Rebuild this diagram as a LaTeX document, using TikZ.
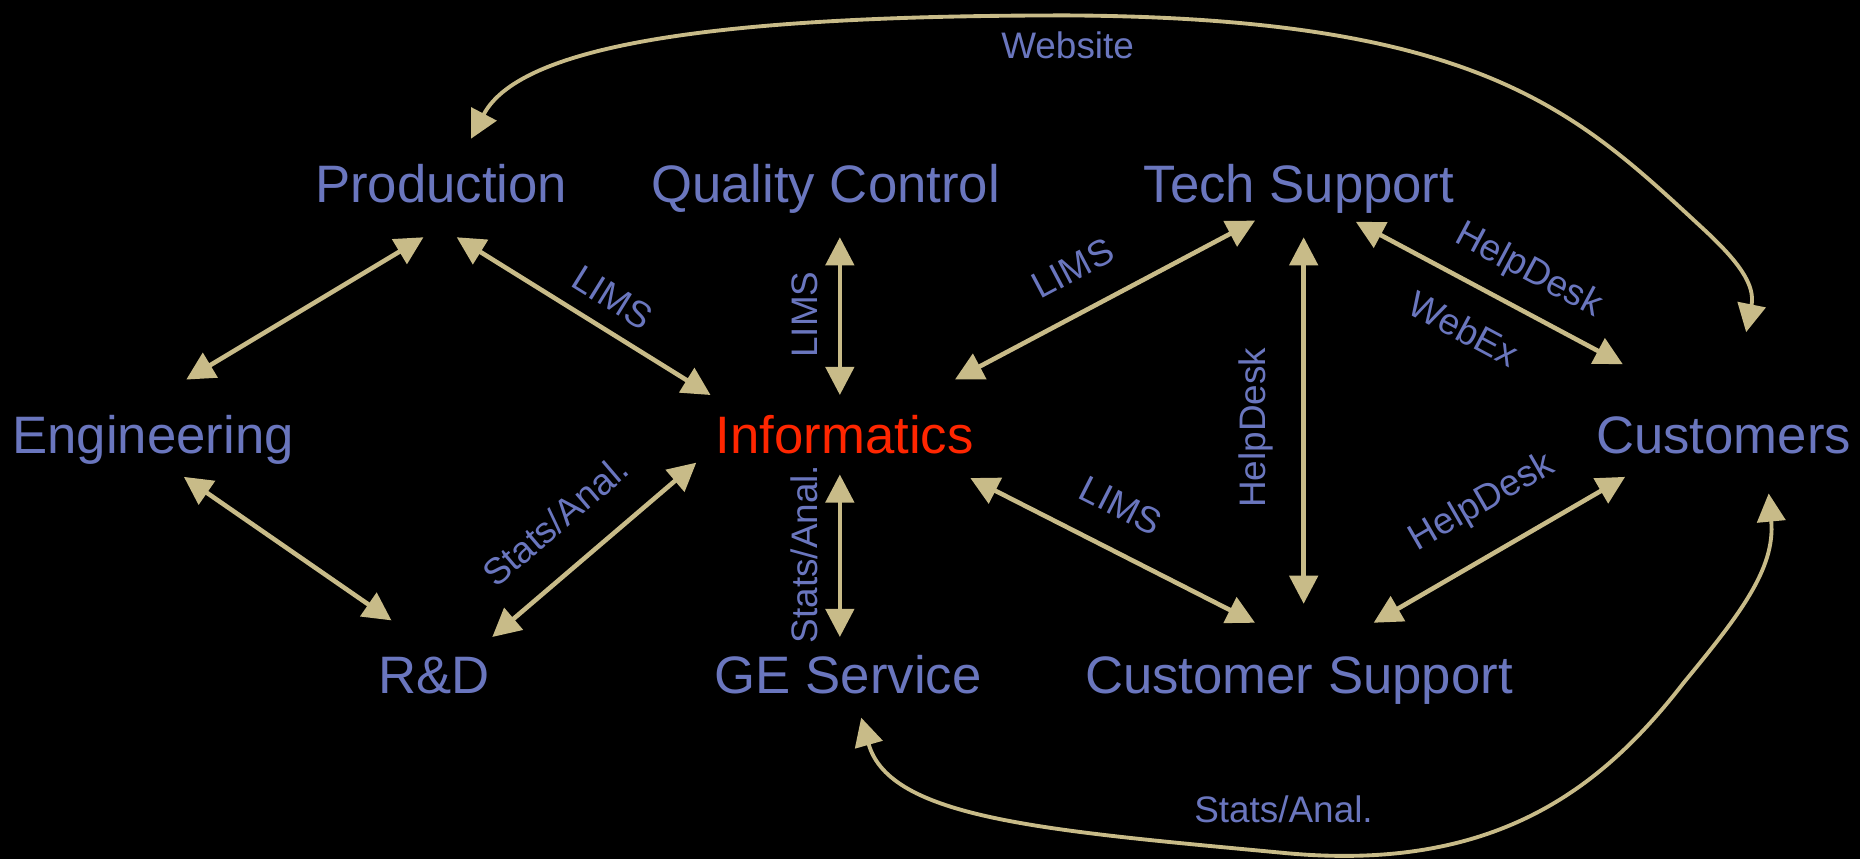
\documentclass[tikz,border=0pt]{standalone}
\usepackage{fontspec}
\setmainfont{Liberation Sans}
\usetikzlibrary{arrows.meta,calc}

\definecolor{deptblue}{RGB}{106,118,190}
\definecolor{linktan}{RGB}{200,187,136}
\definecolor{infored}{RGB}{255,38,0}

\tikzset{
  dept/.style={font=\fontsize{30}{36}\selectfont, text=deptblue, anchor=base, inner sep=0pt},
  lbl/.style={font=\fontsize{21}{25}\selectfont, text=deptblue, sloped, inner sep=2pt},
  curvelbl/.style={font=\fontsize{21}{25}\selectfont, text=deptblue, inner sep=2pt},
  link/.style={draw=linktan, line width=2.6pt, {Triangle[length=16pt,width=16pt]}-{Triangle[length=16pt,width=16pt]}},
  curvelink/.style={link, line width=2.2pt},
}

\begin{document}
\begin{tikzpicture}[x=0.023724cm, y=-0.023724cm]
			\fill[black] (0,0) rectangle (1568,724);
			\useasboundingbox (0,0) rectangle (1568,724);

			\node[dept] (production) at (372,171) {Production};
			\node[dept] (quality) at (696,171) {Quality Control};
			\node[dept] (techsupport) at (1095,171) {Tech Support};
			\node[dept] (engineering) at (129,382) {Engineering};
			\node[dept, text=infored] (informatics) at (712,382) {Informatics};
			\node[dept] (customers) at (1453,382) {Customers};
			\node[dept] (rnd) at (366,585) {R\&D};
			\node[dept] (geservice) at (715,585) {GE Service};
			\node[dept] (custsupport) at (1095,585) {Customer Support};

			\draw[link] ($(engineering.base)+(28,-62)$) -- ($(production.base)+(-15,29)$);
			\draw[link] ($(production.base)+(13,29)$) -- node[lbl, above=7pt, pos=0.55]{LIMS} ($(informatics.base)+(-113,-49)$);
			\draw[link] ($(informatics.base)+(-4,-49)$) -- node[lbl, above=9.4pt, pos=0.51]{LIMS} ($(quality.base)+(12,29)$);
			\draw[link] ($(informatics.base)+(93,-62)$) -- node[lbl, above=13.8pt, pos=0.46]{LIMS} ($(techsupport.base)+(-37,15)$);
			\draw[link] ($(techsupport.base)+(48,16)$) -- node[lbl, above=8.4pt, pos=0.58]{HelpDesk} node[lbl, below=13.7pt, pos=0.48]{WebEx} ($(customers.base)+(-85,-75)$);
			\draw[link] ($(custsupport.base)+(4,-76)$) -- node[lbl, above=13.8pt, pos=0.48]{HelpDesk} ($(techsupport.base)+(4,29)$);
			\draw[link] ($(engineering.base)+(26,20)$) -- ($(rnd.base)+(-36,-62)$);
			\draw[link] ($(rnd.base)+(49,-48)$) -- node[lbl, above=16pt, pos=0.46]{Stats/Anal.} ($(informatics.base)+(-125,8)$);
			\draw[link] ($(geservice.base)+(-7,-48)$) -- node[lbl, above=9.4pt, pos=0.51]{Stats/Anal.} ($(informatics.base)+(-4,18)$);
			\draw[link] ($(informatics.base)+(106,21)$) -- node[lbl, above=14pt, pos=0.46]{LIMS} ($(custsupport.base)+(-37,-60)$);
			\draw[link] ($(custsupport.base)+(63,-60)$) -- node[lbl, above=15pt, pos=0.53]{HelpDesk} ($(customers.base)+(-83,20)$);

			\draw[curvelink] ($(customers.base)+(19,-102)$) .. controls (1480,240) and (1465,220) .. (1437,194)
				.. controls (1330,95) and (1250,15) .. (900,13) node[curvelbl, below=6.4pt]{Website}
				.. controls (620,13) and (440,35) .. ($(production.base)+(25,-54)$);
			\draw[curvelink] ($(geservice.base)+(11,20)$) .. controls (750,690) and (880,700) .. (1082,719) node[curvelbl, above=14pt]{Stats/Anal.}
				.. controls (1260,736) and (1350,665) .. (1419,576)
				.. controls (1465,520) and (1497,480) .. ($(customers.base)+(38,34)$);
		\end{tikzpicture}
\end{document}
